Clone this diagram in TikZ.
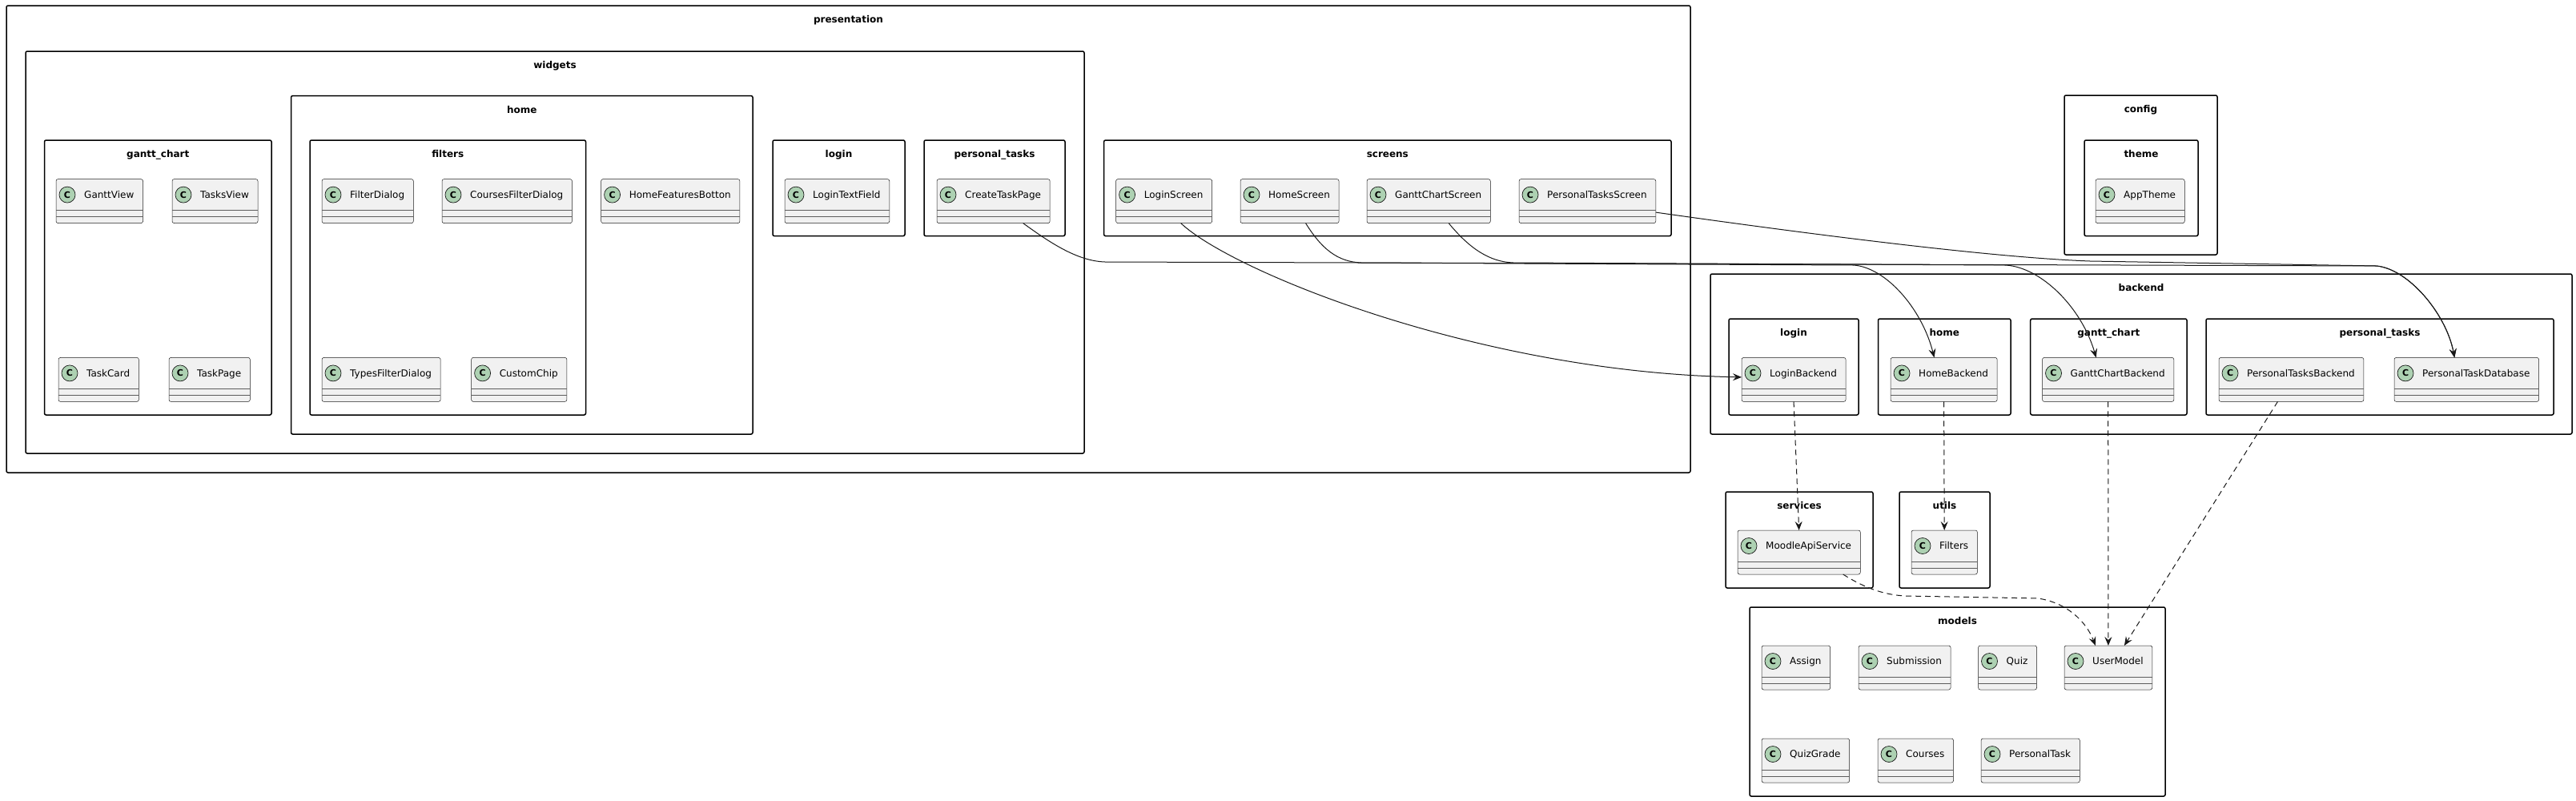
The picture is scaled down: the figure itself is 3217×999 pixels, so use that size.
\documentclass[tikz,border=0pt]{standalone}
\usepackage{fontspec}
\setmainfont{DejaVu Sans}
\usetikzlibrary{arrows.meta, fit}

\pgfdeclarelayer{bg}
\pgfsetlayers{bg,main}

\definecolor{clsfill}{HTML}{F1F1F1}
\definecolor{clsdraw}{HTML}{181818}
\definecolor{spotfill}{HTML}{ADD1B2}

% class box: id, left x, top y, name
\newcommand{\umlclass}[4]{%
  \node[clsname] (#1-t) at (#2+35,#3+19.5) {#4};
  \coordinate (#1-nw) at (#2,#3);
  \coordinate (#1-sw) at (#2,#3+55);
  \coordinate (#1-r) at ([xshift=11pt]#1-t.east);
  \begin{pgfonlayer}{bg}
    \node[clsbox, fit=(#1-nw) (#1-sw) (#1-r)] (#1) {};
  \end{pgfonlayer}
  \draw[clsrule] ([yshift=-39pt]#1.north west) -- ([yshift=-39pt]#1.north east);
  \draw[clsrule] ([yshift=-47pt]#1.north west) -- ([yshift=-47pt]#1.north east);
  \node[clsspot] at (#2+14,#3+19.5) {C};
}

% package frame: id, x1, y1, x2, y2, name
\newcommand{\umlpkg}[6]{%
  \draw[pkgbox] (#2,#3) rectangle (#4,#5);
  \node[pkgname] (#1) at ({(#2+#4)/2},#3+17) {#6};
}

\begin{document}
\begin{tikzpicture}[
    x=1pt, y=-1pt,
    clsname/.style={
        anchor=west,
        inner sep=0pt,
        text height=8.8pt,
        text depth=0pt,
        font=\fontsize{12}{14}\selectfont
    },
    clsbox/.style={
        draw=clsdraw,
        fill=clsfill,
        line width=0.5pt,
        rounded corners=2.5pt,
        inner sep=0pt,
        outer sep=0pt
    },
    clsrule/.style={
        draw=clsdraw!70,
        line width=0.5pt
    },
    clsspot/.style={
        circle,
        draw=clsdraw,
        fill=spotfill,
        line width=0.7pt,
        minimum size=20pt,
        inner sep=0pt,
        font=\fontsize{11}{11}\selectfont\bfseries
    },
    pkgbox/.style={
        draw=black,
        line width=1.5pt,
        rounded corners=2pt
    },
    pkgname/.style={
        inner sep=0pt,
        text height=8.8pt,
        text depth=0pt,
        font=\fontsize{12}{14}\selectfont\bfseries
    },
    dep/.style={
        -{Stealth[length=11pt, width=9pt, inset=4pt]},
        draw=clsdraw,
        line width=1pt
    },
    usedep/.style={
        dep,
        dash pattern=on 7pt off 5pt
    }
]
    \useasboundingbox (0,0) rectangle (3217,999);

    % presentation
    \umlpkg{presentation}{8}{7}{2111}{590}{presentation}
    \umlpkg{widgets}{32}{64}{1354}{566}{widgets}
    \umlpkg{wGantt}{55.5}{175}{339}{518}{gantt\_chart}
    \umlpkg{wHome}{363.5}{119.6}{940}{542}{home}
    \umlpkg{wFilters}{387}{175}{731.5}{518}{filters}
    \umlpkg{wLogin}{965}{175}{1130}{294.6}{login}
    \umlpkg{wPersonal}{1154}{175}{1330}{294.6}{personal\_tasks}
    \umlpkg{screens}{1378.6}{175}{2087}{294.6}{screens}

    \umlclass{ganttView}{70}{223.6}{GanttView}
    \umlclass{tasksView}{215}{223.6}{TasksView}
    \umlclass{taskCard}{73}{446.4}{TaskCard}
    \umlclass{taskPage}{211}{446.4}{TaskPage}
    \umlclass{filterDialog}{402}{223.6}{FilterDialog}
    \umlclass{coursesFilterDialog}{552}{223.6}{CoursesFilterDialog}
    \umlclass{typesFilterDialog}{402}{446.4}{TypesFilterDialog}
    \umlclass{customChip}{588.6}{446.4}{CustomChip}
    \umlclass{homeFeaturesBotton}{750.6}{223.6}{HomeFeaturesBotton}
    \umlclass{loginTextField}{980}{223.6}{LoginTextField}
    \umlclass{createTaskPage}{1170}{223.6}{CreateTaskPage}
    \umlclass{loginScreen}{1393.6}{223.6}{LoginScreen}
    \umlclass{homeScreen}{1549}{223.6}{HomeScreen}
    \umlclass{ganttChartScreen}{1707}{223.6}{GanttChartScreen}
    \umlclass{personalTasksScreen}{1897}{223.6}{PersonalTasksScreen}

    % config
    \umlpkg{config}{2578}{119}{2769}{318}{config}
    \umlpkg{theme}{2603}{175}{2745}{294.6}{theme}
    \umlclass{appTheme}{2617}{223.6}{AppTheme}

    % backend
    \umlpkg{backend}{2136}{342}{3212}{542}{backend}
    \umlpkg{bLogin}{2159}{398}{2321}{518}{login}
    \umlpkg{bHome}{2345.5}{398}{2511}{518}{home}
    \umlpkg{bGantt}{2535.7}{398}{2731}{518}{gantt\_chart}
    \umlpkg{bPersonal}{2755}{398}{3189}{518}{personal\_tasks}
    \umlclass{loginBackend}{2175}{446.4}{LoginBackend}
    \umlclass{homeBackend}{2361}{446.4}{HomeBackend}
    \umlclass{ganttChartBackend}{2550.5}{446.4}{GanttChartBackend}
    \umlclass{personalTasksBackend}{2771}{446.4}{PersonalTasksBackend}
    \umlclass{personalTaskDatabase}{2990}{446.4}{PersonalTaskDatabase}

    % services, utils
    \umlpkg{services}{2155}{614}{2339}{734}{services}
    \umlpkg{utils}{2372}{614}{2485}{734}{utils}
    \umlclass{moodleApiService}{2170}{662}{MoodleApiService}
    \umlclass{filters}{2387}{662}{Filters}

    % models
    \umlpkg{models}{2185}{758}{2704}{994}{models}
    \umlclass{assign}{2200}{806}{Assign}
    \umlclass{submission}{2321}{806}{Submission}
    \umlclass{quiz}{2470.5}{806}{Quiz}
    \umlclass{userModel}{2578}{806}{UserModel}
    \umlclass{quizGrade}{2200}{922}{QuizGrade}
    \umlclass{courses}{2345}{922}{Courses}
    \umlclass{personalTask}{2474}{922}{PersonalTask}

    % screens -> backend
    \draw[dep] ([xshift=21pt]loginScreen.south) .. controls (1540,340) and (1850,465) .. ([yshift=3pt]loginBackend.west);
    \draw[dep] ([xshift=20pt]homeScreen.south) .. controls (1650,310) and (1670,327) .. (1700,328)
        -- (2315,331) .. controls (2355,334) and (2400,385) .. ([xshift=-12pt]homeBackend.north);
    \draw[dep] ([xshift=25pt]ganttChartScreen.south) .. controls (1835,310) and (1860,327) .. (1890,328)
        -- (2505,331) .. controls (2550,334) and (2600,385) .. ([xshift=-15pt]ganttChartBackend.north);
    \draw[dep] ([xshift=37pt]createTaskPage.south) .. controls (1310,302) and (1345,326) .. (1380,327)
        -- (2968,332) .. controls (3008,336) and (3055,392) .. ([xshift=-15pt]personalTaskDatabase.north);
    \draw[dep] ([yshift=-14pt]personalTasksScreen.east) .. controls (2300,298) and (2500,322) .. (2610,326)
        -- (2968,332) .. controls (3008,336) and (3055,392) .. ([xshift=-15pt]personalTaskDatabase.north);

    % backend -> services, utils, models
    \draw[usedep] (loginBackend.south) -- (moodleApiService.north);
    \draw[usedep] (homeBackend.south) -- (filters.north);
    \draw[usedep] (ganttChartBackend.south) -- (userModel.north);
    \draw[usedep] ([xshift=-17pt]personalTasksBackend.south) -- ([xshift=20pt]userModel.north);
    \draw[usedep] ([xshift=55pt]moodleApiService.south) .. controls (2330,735) and (2355,743) .. (2380,744)
        -- (2545,747) .. controls (2580,752) and (2605,775) .. ([xshift=-16pt]userModel.north);
\end{tikzpicture}
\end{document}
